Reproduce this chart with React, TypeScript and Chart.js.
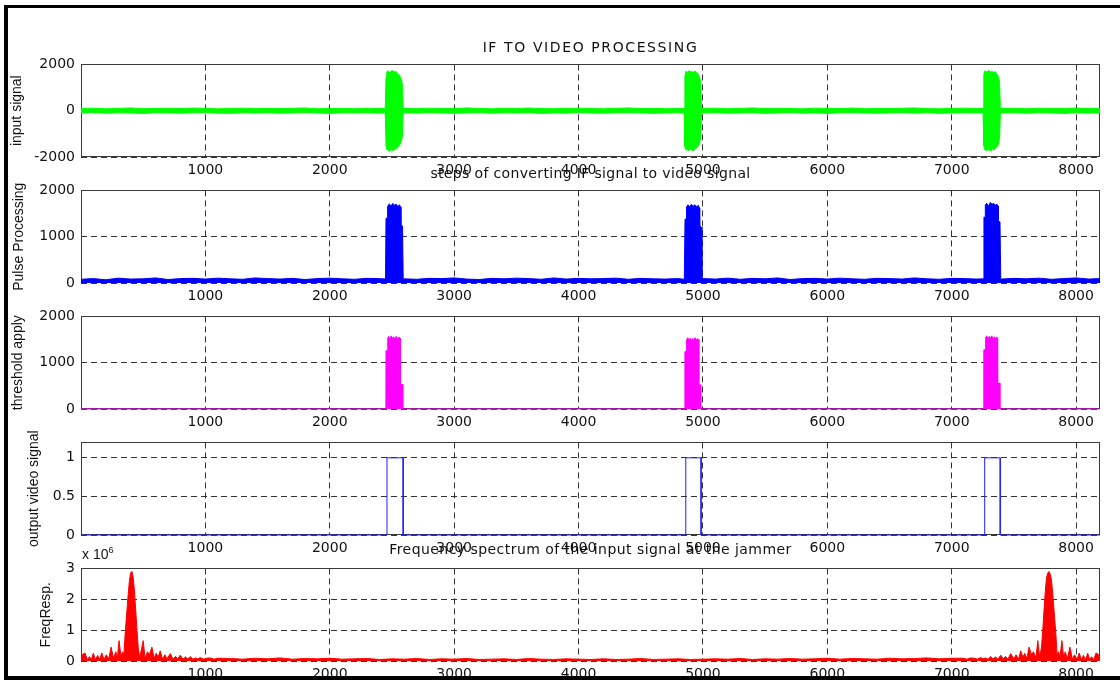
import React, { useEffect, useRef } from "react";
import { Chart, registerables } from "chart.js";
Chart.register(...registerables);

// ---------- shared axis data ----------
const xTickValues = [1000, 2000, 3000, 4000, 5000, 6000, 7000, 8000];
const X_MAX = 8192;

// ---------- subplot 1: input signal (min / max envelope) ----------
const inputX = [
  0, 100, 200, 300, 400, 500, 600, 700, 800, 900, 1000, 1100, 1200, 1300, 1400, 1500, 1600, 1700, 1800, 1900, 2000, 2100, 2200, 2300, 2400, 2446,
  2452, 2458, 2468, 2480, 2492, 2505, 2518, 2530, 2542, 2555, 2566, 2576, 2584, 2590,
  2596, 2700, 2800, 2900, 3000, 3100, 3200, 3300, 3400, 3500, 3600, 3700, 3800, 3900, 4000, 4100, 4200, 4300, 4400, 4500, 4600, 4700, 4800, 4850,
  4855, 4862, 4874, 4886, 4898, 4910, 4922, 4934, 4946, 4958, 4968, 4976, 4982, 4988,
  4994, 5100, 5200, 5300, 5400, 5500, 5600, 5700, 5800, 5900, 6000, 6100, 6200, 6300, 6400, 6500, 6600, 6700, 6800, 6900, 7000, 7100, 7200, 7252,
  7258, 7265, 7277, 7289, 7301, 7313, 7325, 7337, 7349, 7361, 7371, 7379, 7385, 7391,
  7397, 7500, 7600, 7700, 7800, 7900, 8000, 8100, 8192,
];
const inputHi = [
  90, 110, 80, 100, 120, 85, 95, 105, 90, 115, 100, 80, 95, 110, 85, 100, 90, 105, 120, 80, 95, 100, 85, 110, 90, 95,
  1450, 1680, 1720, 1650, 1700, 1740, 1660, 1710, 1620, 1560, 1480, 1350, 1150, 95,
  100, 85, 110, 95, 90, 120, 100, 80, 105, 95, 115, 90, 85, 100, 110, 95, 80, 105, 120, 90, 100, 85, 95, 90,
  1500, 1700, 1650, 1730, 1680, 1700, 1640, 1720, 1660, 1600, 1500, 1380, 1200, 90,
  95, 110, 85, 100, 120, 90, 105, 95, 80, 110, 100, 90, 115, 85, 100, 95, 105, 120, 90, 80, 100, 110, 95, 90,
  1550, 1720, 1680, 1700, 1740, 1660, 1700, 1650, 1690, 1600, 1520, 1400, 1180, 95,
  90, 105, 85, 110, 95, 100, 115, 90, 100,
];
const inputLo = [
  -95, -80, -110, -90, -100, -120, -85, -95, -110, -90, -80, -105, -115, -90, -100, -85, -110, -95, -80, -100, -120, -90, -95, -85, -105, -90,
  -1500, -1650, -1700, -1750, -1680, -1720, -1700, -1640, -1600, -1520, -1450, -1300, -1100, -100,
  -90, -105, -85, -100, -115, -95, -80, -110, -90, -100, -85, -120, -95, -105, -80, -100, -110, -90, -85, -95, -115, -100, -90, -95,
  -1550, -1700, -1680, -1720, -1650, -1700, -1740, -1660, -1620, -1560, -1480, -1320, -1150, -95,
  -100, -85, -110, -95, -90, -115, -100, -80, -105, -95, -120, -90, -85, -100, -110, -95, -80, -105, -90, -115, -100, -85, -95, -90,
  -1500, -1680, -1720, -1690, -1700, -1740, -1650, -1700, -1640, -1580, -1500, -1350, -1120, -100,
  -95, -90, -110, -85, -100, -120, -90, -105, -95,
];

// ---------- subplot 2: pulse processing (rectified) ----------
const pulseX = [
  0, 100, 200, 300, 400, 500, 600, 700, 800, 900, 1000, 1100, 1200, 1300, 1400, 1500, 1600, 1700, 1800, 1900, 2000, 2100, 2200, 2300, 2400, 2448,
  2452, 2463, 2465, 2478, 2492, 2506, 2520, 2534, 2548, 2560, 2570, 2572, 2585, 2590,
  2596, 2700, 2800, 2900, 3000, 3100, 3200, 3300, 3400, 3500, 3600, 3700, 3800, 3900, 4000, 4100, 4200, 4300, 4400, 4500, 4600, 4700, 4800, 4850,
  4856, 4866, 4868, 4880, 4894, 4908, 4922, 4936, 4950, 4962, 4972, 4974, 4986, 4992,
  4996, 5100, 5200, 5300, 5400, 5500, 5600, 5700, 5800, 5900, 6000, 6100, 6200, 6300, 6400, 6500, 6600, 6700, 6800, 6900, 7000, 7100, 7200, 7254,
  7259, 7268, 7270, 7282, 7296, 7310, 7324, 7338, 7352, 7364, 7374, 7376, 7388, 7394,
  7400, 7500, 7600, 7700, 7800, 7900, 8000, 8100, 8192,
];
const pulseY = [
  80, 95, 70, 105, 85, 90, 110, 75, 95, 100, 85, 105, 90, 80, 110, 95, 85, 100, 75, 95, 105, 90, 80, 100, 95, 85,
  1400, 1400, 1650, 1710, 1660, 1720, 1680, 1700, 1650, 1690, 1640, 1250, 1230, 90,
  90, 80, 100, 95, 110, 85, 75, 100, 90, 105, 95, 80, 110, 85, 100, 90, 95, 105, 80, 100, 90, 85, 95, 80,
  1380, 1380, 1640, 1690, 1650, 1700, 1660, 1690, 1640, 1680, 1620, 1230, 1210, 85,
  95, 85, 105, 80, 100, 90, 110, 75, 95, 100, 85, 105, 90, 80, 100, 95, 85, 110, 90, 80, 100, 95, 85, 90,
  1420, 1420, 1690, 1720, 1660, 1740, 1700, 1720, 1680, 1700, 1660, 1330, 1320, 90,
  85, 100, 90, 105, 80, 95, 110, 85, 95,
];

// ---------- subplot 3: threshold applied ----------
const thresholdX = [
  0,
  2451, 2452, 2465, 2466, 2474, 2484, 2494, 2504, 2514, 2524, 2534, 2544, 2556, 2566, 2567, 2586, 2587,
  4854, 4855, 4868, 4869, 4878, 4888, 4898, 4908, 4918, 4928, 4938, 4948, 4958, 4966, 4967, 4984, 4985,
  7257, 7258, 7271, 7272, 7282, 7292, 7302, 7312, 7322, 7332, 7342, 7352, 7362, 7368, 7369, 7386, 7387,
  8192,
];
const thresholdY = [
  0,
  0, 1260, 1260, 1530, 1570, 1510, 1580, 1520, 1560, 1500, 1570, 1520, 1550, 1530, 530, 530, 0,
  0, 1240, 1240, 1500, 1540, 1490, 1530, 1480, 1520, 1500, 1540, 1490, 1520, 1500, 520, 520, 0,
  0, 1280, 1280, 1540, 1580, 1520, 1570, 1530, 1580, 1510, 1560, 1530, 1550, 1540, 560, 560, 0,
  0,
];

// ---------- subplot 4: output video signal ----------
const videoX = [0, 2460, 2460, 2590, 2590, 4862, 4862, 4985, 4985, 7265, 7265, 7390, 7390, 8192];
const videoY = [0, 0, 1, 1, 0, 0, 1, 1, 0, 0, 1, 1, 0, 0];

// ---------- subplot 5: frequency spectrum (values in units of 10^6) ----------
const specX = [
  0, 15, 32, 50, 68, 82, 99, 116, 133, 150, 167, 185, 204, 222, 242, 262, 280, 292, 306, 322, 333, 345,
  355, 365, 375, 388, 398, 410, 420, 430, 440, 450, 460, 470,
  485, 500, 515, 535, 550, 570, 588, 605, 620, 637, 655, 675, 692, 718, 740, 760, 778, 798, 820, 840, 858, 879, 900, 920, 940, 960, 985, 1010, 1040, 1070, 1100,
  1200, 1300, 1400, 1500, 1600, 1700, 1800, 1900, 2000, 2100,
  2200, 2300, 2400, 2500, 2600, 2700, 2800, 2900, 3000, 3100,
  3200, 3300, 3400, 3500, 3600, 3700, 3800, 3900, 4000, 4100,
  4200, 4300, 4400, 4500, 4600, 4700, 4800, 4900, 5000, 5100,
  5200, 5300, 5400, 5500, 5600, 5700, 5800, 5900, 6000, 6100,
  6200, 6300, 6400, 6500, 6600, 6700, 6800, 6900, 7000,
  7092, 7122, 7152, 7182, 7207, 7232, 7252, 7272, 7292, 7313, 7334, 7352, 7372, 7394, 7414, 7432, 7452, 7474, 7500, 7517, 7537, 7555, 7572, 7587, 7604, 7622, 7642, 7657, 7677, 7692, 7707,
  7722, 7732, 7742, 7752, 7762, 7772, 7782, 7794, 7804, 7817, 7827, 7837,
  7847, 7859, 7870, 7886, 7900, 7912, 7930, 7950, 7970, 7988, 8007, 8025, 8042, 8059, 8076, 8093, 8110, 8124, 8142, 8160, 8177, 8192,
];
const specY = [
  0.12, 0.22, 0.26, 0.05, 0.14, 0.04, 0.25, 0.04, 0.18, 0.05, 0.26, 0.05, 0.2, 0.06, 0.45, 0.08, 0.3, 0.1, 0.66, 0.12, 0.3, 0.2,
  0.9, 1.4, 1.95, 2.55, 2.85, 2.9, 2.7, 2.25, 1.65, 1.0, 0.45, 0.12,
  0.35, 0.66, 0.1, 0.3, 0.2, 0.45, 0.08, 0.25, 0.12, 0.33, 0.06, 0.2, 0.07, 0.24, 0.06, 0.15, 0.07, 0.19, 0.06, 0.13, 0.07, 0.14, 0.06, 0.1, 0.07, 0.11, 0.06, 0.09, 0.1, 0.06, 0.09,
  0.08, 0.06, 0.09, 0.07, 0.1, 0.06, 0.08, 0.07, 0.09, 0.06,
  0.07, 0.08, 0.05, 0.07, 0.06, 0.08, 0.05, 0.07, 0.06, 0.08,
  0.05, 0.06, 0.07, 0.05, 0.08, 0.06, 0.05, 0.07, 0.06, 0.05,
  0.07, 0.05, 0.06, 0.08, 0.05, 0.06, 0.07, 0.05, 0.06, 0.07,
  0.06, 0.08, 0.05, 0.07, 0.06, 0.08, 0.06, 0.07, 0.09, 0.06,
  0.08, 0.07, 0.06, 0.09, 0.07, 0.08, 0.1, 0.07, 0.09,
  0.09, 0.06, 0.1, 0.09, 0.06, 0.11, 0.07, 0.1, 0.06, 0.14, 0.07, 0.13, 0.06, 0.19, 0.07, 0.15, 0.06, 0.24, 0.07, 0.2, 0.06, 0.33, 0.12, 0.25, 0.08, 0.45, 0.2, 0.3, 0.1, 0.66, 0.12,
  0.45, 1.0, 1.65, 2.25, 2.7, 2.85, 2.9, 2.8, 2.55, 1.95, 1.4, 0.9,
  0.2, 0.3, 0.12, 0.66, 0.1, 0.3, 0.08, 0.45, 0.06, 0.2, 0.05, 0.26, 0.05, 0.18, 0.04, 0.25, 0.04, 0.14, 0.05, 0.26, 0.22, 0.12,
];

// ---------- styling ----------
const TICK_FONT = { family: "'DejaVu Sans', sans-serif", size: 14 };
const LABEL_FONT = { family: "'Liberation Sans', Arial, sans-serif", size: 14 };
const PLOT_LEFT = 81;
const PAD_RIGHT = 20;
const PAD_TOP = 12;
const X_AXIS_H = 26;
const PLOT_H = 95;

const pts = (xs: number[], ys: number[]) => xs.map((x, i) => ({ x, y: ys[i] }));

const boxPlugin = {
  id: "box",
  beforeDatasetsDraw(chart: any) {
    const { ctx, chartArea } = chart;
    const { left, top, right, bottom } = chartArea;
    ctx.save();
    ctx.strokeStyle = "#3a3a3a";
    ctx.lineWidth = 1;
    ctx.setLineDash([]);
    ctx.strokeRect(Math.round(left) + 0.5, Math.round(top) + 0.5, Math.round(right - left) - 1, Math.round(bottom - top) - 1);
    ctx.restore();
  },
};

type PanelProps = {
  plotTop: number;
  padLeft: number;
  yTitle: string;
  yMin: number;
  yMax: number;
  yTicks: number[];
  datasets: any[];
};

function Panel({ plotTop, padLeft, yTitle, yMin, yMax, yTicks, datasets }: PanelProps) {
  const ref = useRef<HTMLCanvasElement | null>(null);
  const height = PAD_TOP + PLOT_H + X_AXIS_H;
  useEffect(() => {
    if (!ref.current) return;
    const grid = { color: "#333", lineWidth: 1, drawTicks: false };
    const chart = new Chart(ref.current, {
      type: "line",
      data: { datasets },
      plugins: [boxPlugin],
      options: {
        animation: false,
        responsive: false,
        maintainAspectRatio: false,
        events: [],
        layout: { padding: { left: padLeft, right: PAD_RIGHT, top: PAD_TOP, bottom: 0 } },
        elements: { point: { radius: 0 }, line: { tension: 0 } },
        plugins: { legend: { display: false }, tooltip: { enabled: false }, title: { display: false } },
        scales: {
          x: {
            type: "linear",
            min: 0,
            max: X_MAX,
            grid,
            border: { display: false, dash: [6, 4] },
            afterBuildTicks: (s: any) => {
              s.ticks = xTickValues.map((v) => ({ value: v }));
            },
            afterFit: (s: any) => {
              s.height = X_AXIS_H;
            },
            ticks: { font: TICK_FONT, color: "#111", padding: 5, maxRotation: 0, autoSkip: false, callback: (v: any) => String(v) },
          },
          y: {
            type: "linear",
            min: yMin,
            max: yMax,
            grid,
            border: { display: false, dash: [6, 4] },
            afterBuildTicks: (s: any) => {
              s.ticks = yTicks.map((v) => ({ value: v }));
            },
            afterFit: (s: any) => {
              s.width = PLOT_LEFT - padLeft;
            },
            ticks: { font: TICK_FONT, color: "#111", padding: 6, autoSkip: false, callback: (v: any) => String(v) },
            title: { display: true, text: yTitle, font: LABEL_FONT, color: "#111", padding: 0 },
          },
        },
      } as any,
    });
    return () => chart.destroy();
  }, []);
  return (
    <canvas
      ref={ref}
      width={1120}
      height={height}
      style={{ position: "absolute", left: 0, top: plotTop - PAD_TOP, width: 1120, height }}
    />
  );
}

const line = (data: any[], color: string, extra: any = {}) => ({
  data,
  borderColor: color,
  backgroundColor: color,
  borderWidth: 1,
  pointRadius: 0,
  fill: false,
  clip: false,
  ...extra,
});

const titleStyle = (top: number, spacing: number): React.CSSProperties => ({
  position: "absolute",
  left: 81,
  width: 1019,
  top,
  height: 16,
  lineHeight: "16px",
  textAlign: "center",
  fontFamily: "'DejaVu Sans', sans-serif",
  fontSize: 14,
  letterSpacing: `${spacing}px`,
  color: "#111",
  whiteSpace: "nowrap",
});

export default function App() {
  return (
    <div style={{ position: "fixed", left: 0, top: 0, width: 1120, height: 682, background: "#fff", overflow: "hidden" }}>
      <Panel
        plotTop={62}
        padLeft={9}
        yTitle="input signal"
        yMin={-2000}
        yMax={2000}
        yTicks={[-2000, 0, 2000]}
        datasets={[
          line(pts(inputX, inputHi), "#00ff00", { fill: "+1", backgroundColor: "#00ff00" }),
          line(pts(inputX, inputLo), "#00ff00"),
        ]}
      />
      <Panel
        plotTop={188}
        padLeft={11}
        yTitle="Pulse Processing"
        yMin={0}
        yMax={2000}
        yTicks={[0, 1000, 2000]}
        datasets={[line(pts(pulseX, pulseY), "#0000ff", { fill: "origin" })]}
      />
      <Panel
        plotTop={314}
        padLeft={10}
        yTitle="threshold apply"
        yMin={0}
        yMax={2000}
        yTicks={[0, 1000, 2000]}
        datasets={[line(pts(thresholdX, thresholdY), "#ff00ff", { fill: "origin" })]}
      />
      <Panel
        plotTop={440}
        padLeft={26}
        yTitle="output video signal"
        yMin={0}
        yMax={1.2}
        yTicks={[0, 0.5, 1]}
        datasets={[line(pts(videoX, videoY), "#2020ff")]}
      />
      <Panel
        plotTop={566}
        padLeft={38}
        yTitle="FreqResp."
        yMin={0}
        yMax={3}
        yTicks={[0, 1, 2, 3]}
        datasets={[line(pts(specX, specY), "#ff0000", { fill: "origin" })]}
      />

      <div style={titleStyle(39, 1.6)}>IF TO VIDEO PROCESSING</div>
      <div style={titleStyle(165, 0.35)}>steps of converting IF signal to video signal</div>
      <div style={titleStyle(541, 0.45)}>Frequency spectrum of the input signal at the jammer</div>
      <div
        style={{
          position: "absolute",
          left: 82,
          top: 543,
          fontFamily: "'Liberation Sans', Arial, sans-serif",
          fontSize: 14,
          color: "#111",
          whiteSpace: "nowrap",
          lineHeight: "14px",
        }}
      >
        x 10<sup style={{ fontSize: 9, verticalAlign: "6px" }}>6</sup>
      </div>

      {/* outer frame */}
      <div style={{ position: "absolute", left: 4, top: 5, width: 1116, height: 3, background: "#000" }} />
      <div style={{ position: "absolute", left: 4, top: 5, width: 4, height: 675, background: "#000" }} />
      <div style={{ position: "absolute", left: 4, top: 676, width: 1116, height: 4, background: "#000" }} />
    </div>
  );
}
